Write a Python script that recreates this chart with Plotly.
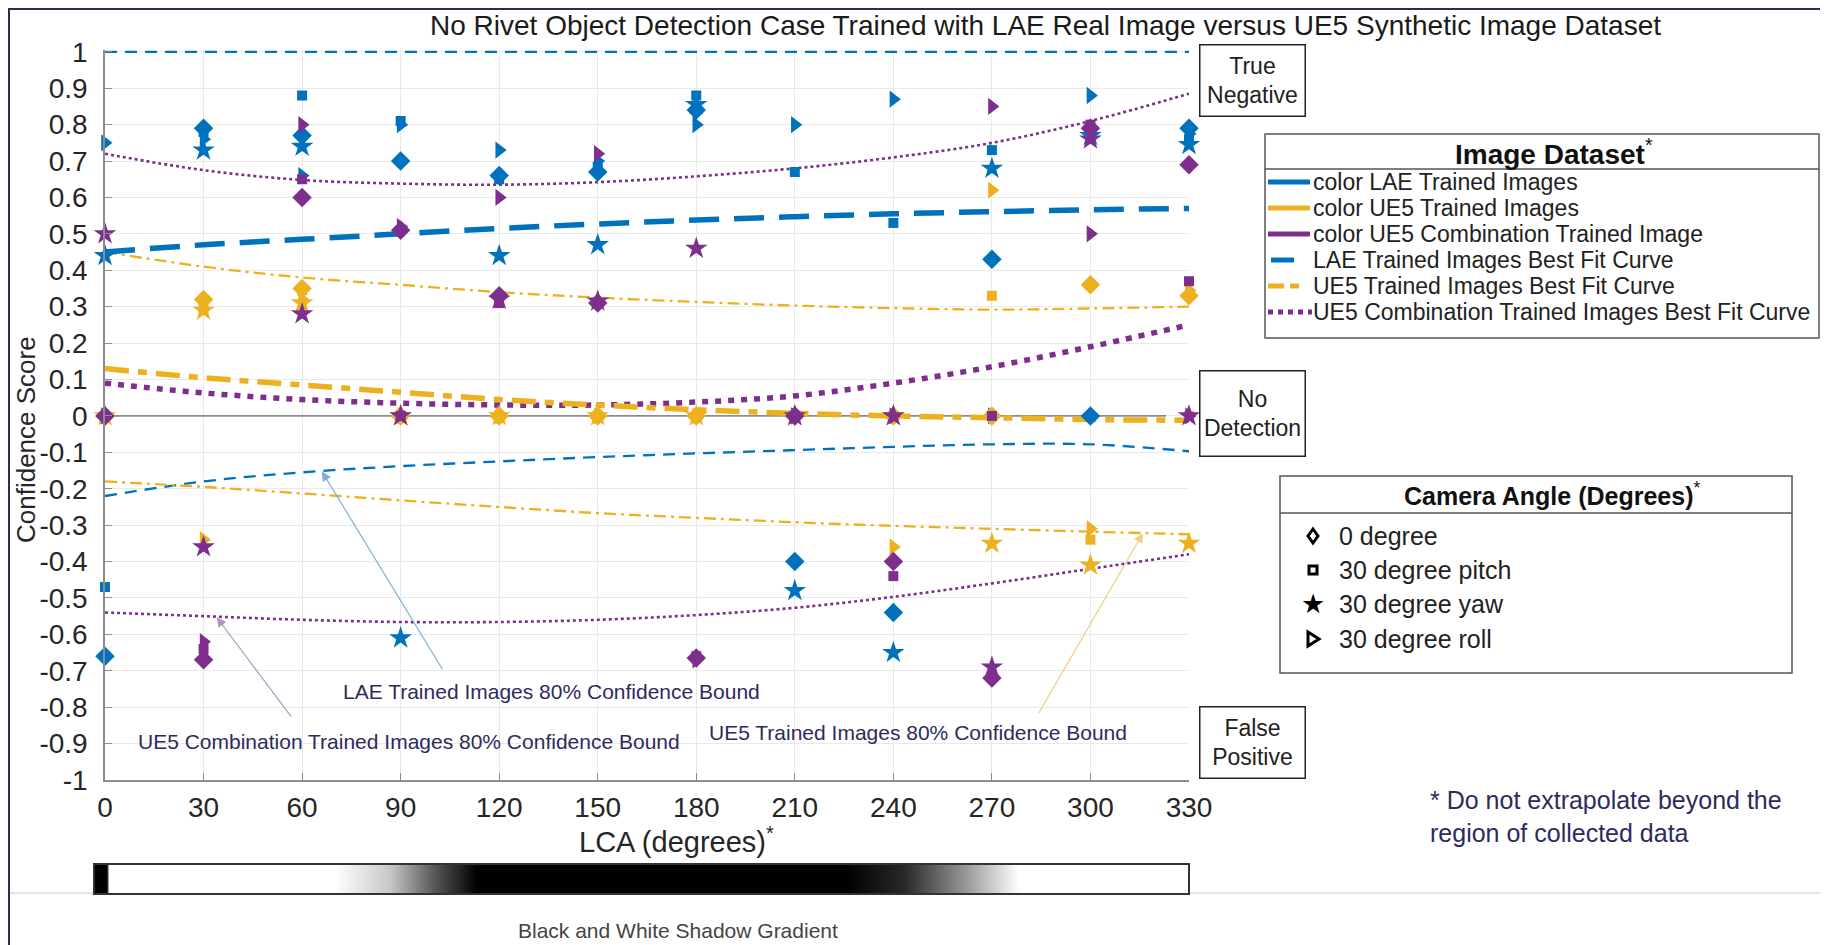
import base64
import plotly.graph_objects as go

# ---------------- data ----------------
LCA = [0, 30, 60, 90, 120, 150, 180, 210, 240, 270, 300, 330]
Y_TICKS = [1, 0.9, 0.8, 0.7, 0.6, 0.5, 0.4, 0.3, 0.2, 0.1, 0,
           -0.1, -0.2, -0.3, -0.4, -0.5, -0.6, -0.7, -0.8, -0.9, -1]

# LAE trained images (blue) per camera angle
LAE_0DEG = [-0.66, 0.79, 0.77, 0.70, 0.66, 0.67, 0.84, -0.40, -0.54, 0.43, 0.00, 0.79]
LAE_PITCH = [-0.47, 0.78, 0.88, 0.81, 0.65, 0.685, 0.88, 0.67, 0.53, 0.73, 0.78, 0.76]
LAE_YAW = [0.44, 0.73, 0.74, -0.61, 0.44, 0.47, 0.855, -0.48, -0.65, 0.68, 0.77, 0.745]
LAE_ROLL = [0.75, 0.76, 0.66, 0.80, 0.73, 0.70, 0.80, 0.80, 0.87, 0.00, 0.88, 0.775]

# UE5 trained images (orange)
UE5_0DEG = [0.00, 0.32, 0.35, 0.00, 0.00, 0.00, 0.00, 0.00, 0.00, 0.00, 0.36, 0.33]
UE5_PITCH = [0.00, 0.295, 0.345, 0.00, 0.00, 0.00, 0.00, 0.00, 0.00, 0.33, -0.34, 0.00]
UE5_YAW = [0.00, 0.29, 0.31, 0.00, 0.00, 0.00, 0.00, 0.00, 0.00, -0.35, -0.41, -0.35]
UE5_ROLL = [0.00, -0.34, 0.32, 0.00, 0.00, 0.00, 0.00, 0.00, -0.36, 0.62, -0.31, 0.345]

# UE5 combination trained images (purple)
CMB_0DEG = [0.00, -0.67, 0.60, 0.51, 0.33, 0.31, -0.665, 0.00, -0.40, -0.72, 0.79, 0.69]
CMB_PITCH = [0.00, -0.64, 0.65, 0.00, 0.31, 0.31, -0.66, 0.00, -0.44, 0.00, 0.80, 0.37]
CMB_YAW = [0.50, -0.36, 0.28, 0.00, 0.32, 0.315, 0.46, 0.00, 0.00, -0.69, 0.76, 0.00]
CMB_ROLL = [0.00, -0.62, 0.80, 0.52, 0.60, 0.72, -0.67, 0.00, 0.00, 0.85, 0.50, 0.00]

# best fit curves and 80% confidence bounds
LAE_FIT = [0.45, 0.47, 0.485, 0.50, 0.515, 0.527, 0.538, 0.547, 0.555, 0.561, 0.566, 0.57]
LAE_UPPER = [1.0, 1.0, 1.0, 1.0, 1.0, 1.0, 1.0, 1.0, 1.0, 1.0, 1.0, 1.0]
LAE_LOWER = [-0.22, -0.18, -0.155, -0.138, -0.125, -0.113, -0.103, -0.094, -0.085, -0.078, -0.078, -0.097]
UE5_FIT = [0.13, 0.105, 0.085, 0.065, 0.045, 0.03, 0.017, 0.007, 0.0, -0.005, -0.01, -0.012]
UE5_UPPER = [0.45, 0.41, 0.38, 0.36, 0.34, 0.325, 0.313, 0.303, 0.296, 0.292, 0.295, 0.30]
UE5_LOWER = [-0.18, -0.195, -0.213, -0.232, -0.25, -0.267, -0.28, -0.292, -0.302, -0.31, -0.318, -0.325]
CMB_FIT = [0.09, 0.063, 0.045, 0.035, 0.03, 0.03, 0.038, 0.055, 0.09, 0.135, 0.19, 0.25]
CMB_UPPER = [0.72, 0.675, 0.648, 0.638, 0.635, 0.642, 0.658, 0.68, 0.71, 0.75, 0.81, 0.885]
CMB_LOWER = [-0.54, -0.55, -0.56, -0.566, -0.566, -0.56, -0.547, -0.527, -0.497, -0.46, -0.42, -0.38]

ZERO_LINE_X = [0, 323]
ZERO_LINE_Y = [0, 0]

DATASET_LABELS = ["color LAE Trained Images", "color UE5 Trained Images",
                  "color UE5 Combination Trained Image", "LAE Trained Images Best Fit Curve",
                  "UE5 Trained Images Best Fit Curve", "UE5 Combination Trained Images Best Fit Curve"]
ANGLE_LABELS = ["0 degree", "30 degree pitch", "30 degree yaw", "30 degree roll"]

# gradient stops of the shadow bar (offset, grey level)
SHADOW_STOPS = [(0.0, 0), (0.012, 0), (0.014, 255), (0.22, 255), (0.27, 200), (0.31, 90),
                (0.35, 0), (0.686, 0), (0.74, 40), (0.80, 160), (0.845, 255), (1.0, 255)]

# ---------------- styling / layout helpers ----------------
BLUE, ORANGE, PURPLE = "#0072BD", "#EDB120", "#7E2F8E"
NAVY = "#2e2b5c"
TXT = "#222222"
FONT = "Liberation Sans, Arial, sans-serif"
W, H = 1828, 945
OFF = 8                               # page body margin offsets the figure by this much
L, R, T, B = 105, 1189, 50, 780      # plot area in page pixels
YMIN, YMAX = -1.0, 1.005
XMIN, XMAX = 0, 330


def PX(px):
    return (px - L) / (R - L)


def PY(py):
    return (B - py) / (B - T)


def DX(px):
    return XMIN + (px - L) / (R - L) * (XMAX - XMIN)


def DY(py):
    return YMIN + (B - py) / (B - T) * (YMAX - YMIN)


def ppath(points):
    return "M " + " L ".join("%.5f,%.5f" % (PX(x), PY(y)) for x, y in points) + " Z"


fig = go.Figure()

# zero reference line
fig.add_trace(go.Scatter(x=ZERO_LINE_X, y=ZERO_LINE_Y, mode="lines",
                         line=dict(color="#8c8c8c", width=1.6), hoverinfo="skip"))

curves = [
    (LAE_UPPER, BLUE, 2.3, "12px,8px"),
    (LAE_LOWER, BLUE, 2.3, "12px,8px"),
    (UE5_UPPER, ORANGE, 2.3, "12px,5px,3px,5px"),
    (UE5_LOWER, ORANGE, 2.3, "12px,5px,3px,5px"),
    (CMB_UPPER, PURPLE, 2.6, "3px,3px"),
    (CMB_LOWER, PURPLE, 2.6, "3px,3px"),
    (LAE_FIT, BLUE, 5.5, "30px,15px"),
    (CMB_FIT, PURPLE, 5.5, "6px,7px"),
    (UE5_FIT, ORANGE, 5.5, "24px,9px,9px,9px"),
]
for ys, col, wd, dash in curves:
    fig.add_trace(go.Scatter(x=LCA, y=ys, mode="lines",
                             line=dict(color=col, width=wd, dash=dash, shape="spline", smoothing=1.0),
                             hoverinfo="skip"))

series = [
    (BLUE, [LAE_0DEG, LAE_PITCH, LAE_YAW, LAE_ROLL]),
    (ORANGE, [UE5_0DEG, UE5_PITCH, UE5_YAW, UE5_ROLL]),
    (PURPLE, [CMB_0DEG, CMB_PITCH, CMB_YAW, CMB_ROLL]),
]
symbols = [("diamond", 15), ("square", 10), ("star", 17), ("triangle-right", 15)]
for col, arrs in series:
    for ys, (sym, sz) in zip(arrs, symbols):
        fig.add_trace(go.Scatter(x=LCA, y=ys, mode="markers", cliponaxis=False,
                                 marker=dict(symbol=sym, size=sz, color=col, line=dict(width=0)),
                                 hoverinfo="skip"))

shapes = []
annotations = []

# white masks behind callout texts
for x0, x1, y0, y1 in [(318, 857, 667, 711), (117, 690, 713, 769), (694, 1187, 708, 760)]:
    shapes.append(dict(type="rect", xref="x", yref="y", x0=DX(x0), x1=DX(x1), y0=DY(y1), y1=DY(y0),
                       fillcolor="white", line=dict(width=0), layer="below"))

# arrows to the confidence bounds
for (hx, hy, tx, ty, col) in [(66, -0.152, 103, -0.70, "#7fb0d6"),
                              (34, -0.553, 57, -0.83, "#b394c2"),
                              (316, -0.322, 284, -0.82, "#f0cd7a")]:
    annotations.append(dict(x=hx, y=hy, ax=tx, ay=ty, xref="x", yref="y", axref="x", ayref="y",
                            text="", showarrow=True, arrowhead=2, arrowsize=1.6, arrowwidth=1.2,
                            arrowcolor=col))

for txt, cx, cy in [("LAE Trained Images 80% Confidence Bound", 551, 691),
                    ("UE5 Combination Trained Images 80% Confidence Bound", 409, 741),
                    ("UE5 Trained Images 80% Confidence Bound", 918, 732)]:
    annotations.append(dict(x=PX(cx), y=PY(cy), xref="paper", yref="paper", text=txt, showarrow=False,
                            xanchor="center", yanchor="middle", font=dict(family=FONT, size=21, color=NAVY)))

# region boxes
for txt, cy, hgt in [("True<br>Negative", 80, 70), ("No<br>Detection", 414, 84), ("False<br>Positive", 742, 70)]:
    annotations.append(dict(x=PX(1252), y=PY(cy), xref="paper", yref="paper", text=txt, showarrow=False,
                            xanchor="center", yanchor="middle", width=104, height=hgt, align="center",
                            bordercolor="#222", borderwidth=1.5, borderpad=0, bgcolor="white",
                            font=dict(family=FONT, size=23, color=TXT)))

# title and axis titles
annotations.append(dict(x=PX(1045), y=PY(26), xref="paper", yref="paper", showarrow=False,
                        text="No Rivet Object Detection Case Trained with LAE Real Image versus UE5 Synthetic Image Dataset",
                        xanchor="center", yanchor="middle", font=dict(family=FONT, size=28, color="#1a1a1a")))
annotations.append(dict(x=PX(26), y=PY(440), xref="paper", yref="paper", showarrow=False, textangle=-90,
                        text="Confidence Score", xanchor="center", yanchor="middle",
                        font=dict(family=FONT, size=26, color="#262626")))
annotations.append(dict(x=PX(676), y=PY(840), xref="paper", yref="paper", showarrow=False,
                        text="LCA (degrees)<sup>*</sup>", xanchor="center", yanchor="middle",
                        font=dict(family=FONT, size=29, color="#262626")))

# Image Dataset legend
shapes.append(dict(type="rect", xref="paper", yref="paper", x0=PX(1265), x1=PX(1819), y0=PY(338), y1=PY(134),
                   line=dict(color="#555", width=1.5), fillcolor="white"))
shapes.append(dict(type="line", xref="paper", yref="paper", x0=PX(1265), x1=PX(1819), y0=PY(169), y1=PY(169),
                   line=dict(color="#555", width=1.5)))
annotations.append(dict(x=PX(1554), y=PY(152), xref="paper", yref="paper", showarrow=False,
                        text="<b>Image Dataset</b><sup>*</sup>", xanchor="center", yanchor="middle",
                        font=dict(family=FONT, size=28, color="#111")))
ds_rows = [182, 208, 234, 260, 286, 312]
ds_styles = [(BLUE, "solid", 1268, 1310), (ORANGE, "solid", 1268, 1310), (PURPLE, "solid", 1268, 1310),
             (BLUE, "solid", 1271, 1294), (ORANGE, "16px,6px,9px", 1268, 1310), (PURPLE, "5px,5px", 1268, 1312)]
for r, lab, (col, dsh, x0, x1) in zip(ds_rows, DATASET_LABELS, ds_styles):
    shapes.append(dict(type="line", xref="paper", yref="paper", x0=PX(x0), x1=PX(x1), y0=PY(r), y1=PY(r),
                       line=dict(color=col, width=5, dash=dsh)))
    annotations.append(dict(x=PX(1311), y=PY(r), xref="paper", yref="paper", showarrow=False, text=lab,
                            xanchor="left", yanchor="middle", font=dict(family=FONT, size=23, color=TXT)))

# Camera angle legend
ang_rows = [536, 570, 604, 639]
SX = 1313
shapes.append(dict(type="rect", xref="paper", yref="paper", x0=PX(1280), x1=PX(1792), y0=PY(673), y1=PY(476),
                   line=dict(color="#555", width=1.5), fillcolor="white"))
shapes.append(dict(type="line", xref="paper", yref="paper", x0=PX(1280), x1=PX(1792), y0=PY(513), y1=PY(513),
                   line=dict(color="#555", width=1.5)))
annotations.append(dict(x=PX(1552), y=PY(494), xref="paper", yref="paper", showarrow=False,
                        text="<b>Camera Angle (Degrees)</b><sup>*</sup>", xanchor="center", yanchor="middle",
                        font=dict(family=FONT, size=25, color="#111")))
# 0 degree: open diamond
cy = ang_rows[0]
shapes.append(dict(type="path", xref="paper", yref="paper",
                   path=ppath([(SX, cy - 7), (SX + 5, cy), (SX, cy + 7), (SX - 5, cy)]),
                   line=dict(color="black", width=3), fillcolor="white"))
# 30 degree pitch: open square
cy = ang_rows[1]
shapes.append(dict(type="rect", xref="paper", yref="paper", x0=PX(SX - 4), x1=PX(SX + 4),
                   y0=PY(cy + 4), y1=PY(cy - 4), line=dict(color="black", width=3), fillcolor="white"))
# 30 degree yaw: filled star glyph
annotations.append(dict(x=PX(SX), y=PY(ang_rows[2] - 1), xref="paper", yref="paper", showarrow=False,
                        text="\u2605", xanchor="center", yanchor="middle",
                        font=dict(family="DejaVu Sans", size=27, color="black")))
# 30 degree roll: open right triangle
cy = ang_rows[3]
shapes.append(dict(type="path", xref="paper", yref="paper",
                   path=ppath([(SX - 5, cy - 7), (SX + 6, cy), (SX - 5, cy + 7)]),
                   line=dict(color="black", width=3), fillcolor="white"))
for r, lab in zip(ang_rows, ANGLE_LABELS):
    annotations.append(dict(x=PX(1337), y=PY(r), xref="paper", yref="paper", showarrow=False, text=lab,
                            xanchor="left", yanchor="middle", font=dict(family=FONT, size=25, color=TXT)))

# footnote
annotations.append(dict(x=PX(1428), y=PY(816), xref="paper", yref="paper", showarrow=False,
                        text="* Do not extrapolate beyond the<br>region of collected data", align="left",
                        xanchor="left", yanchor="middle", font=dict(family=FONT, size=25, color=NAVY)))

# page separator line and outer frame
shapes.append(dict(type="line", xref="paper", yref="paper", x0=PX(OFF), x1=PX(W + OFF), y0=PY(893), y1=PY(893),
                   line=dict(color="#dcdcdc", width=1.5), layer="below"))
shapes.append(dict(type="line", xref="paper", yref="paper", x0=PX(OFF + 1), x1=PX(OFF + 1), y0=PY(OFF), y1=PY(H + OFF),
                   line=dict(color=NAVY, width=2)))
shapes.append(dict(type="line", xref="paper", yref="paper", x0=PX(OFF), x1=PX(W + OFF), y0=PY(OFF + 1), y1=PY(OFF + 1),
                   line=dict(color=NAVY, width=2)))

# shadow gradient bar
BX0, BX1, BY0, BY1 = 94, 1189, 864, 894
stops = "".join('<stop offset="%.4f" stop-color="rgb(%d,%d,%d)"/>' % (o, g, g, g) for o, g in SHADOW_STOPS)
svg = ('<svg xmlns="http://www.w3.org/2000/svg" width="%d" height="%d" preserveAspectRatio="none">'
       '<defs><linearGradient id="g" x1="0" x2="1" y1="0" y2="0">%s</linearGradient></defs>'
       '<rect x="0" y="0" width="%d" height="%d" fill="url(#g)"/></svg>') % (BX1 - BX0, BY1 - BY0, stops,
                                                                          BX1 - BX0, BY1 - BY0)
src = "data:image/svg+xml;base64," + base64.b64encode(svg.encode()).decode()
images = [dict(source=src, xref="paper", yref="paper", x=PX(BX0), y=PY(BY0),
               sizex=PX(BX1) - PX(BX0), sizey=PY(BY0) - PY(BY1), sizing="stretch",
               xanchor="left", yanchor="top", layer="above")]
shapes.append(dict(type="rect", xref="paper", yref="paper", x0=PX(BX0), x1=PX(BX1), y0=PY(BY1), y1=PY(BY0),
                   line=dict(color="#333", width=2)))
annotations.append(dict(x=PX(678), y=PY(930), xref="paper", yref="paper", showarrow=False,
                        text="Black and White Shadow Gradient", xanchor="center", yanchor="middle",
                        font=dict(family=FONT, size=21, color="#444")))

fig.update_layout(
    width=W, height=H, autosize=False,
    margin=dict(l=L - OFF, r=W - (R - OFF), t=T - OFF, b=H - (B - OFF), pad=0),
    paper_bgcolor="white", plot_bgcolor="white",
    showlegend=False, hovermode=False,
    shapes=shapes, annotations=annotations, images=images,
    xaxis=dict(range=[XMIN, XMAX], tickvals=LCA, ticktext=[str(v) for v in LCA],
               showgrid=True, gridcolor="#e9e9e9", gridwidth=1, zeroline=False,
               showline=True, linecolor="#8c8c8c", linewidth=1.5, ticks="inside", ticklen=7,
               tickcolor="#8c8c8c", tickwidth=1.2, ticklabelstandoff=2,
               tickfont=dict(family=FONT, size=28, color="#262626")),
    yaxis=dict(range=[YMIN, YMAX], tickvals=Y_TICKS, ticktext=["%g" % v for v in Y_TICKS],
               showgrid=True, gridcolor="#e9e9e9", gridwidth=1, zeroline=False,
               showline=True, linecolor="#8c8c8c", linewidth=1.5, ticks="inside", ticklen=7,
               tickcolor="#8c8c8c", tickwidth=1.2, ticklabelstandoff=10,
               tickfont=dict(family=FONT, size=28, color="#262626")),
)

fig.write_html("out.html")
